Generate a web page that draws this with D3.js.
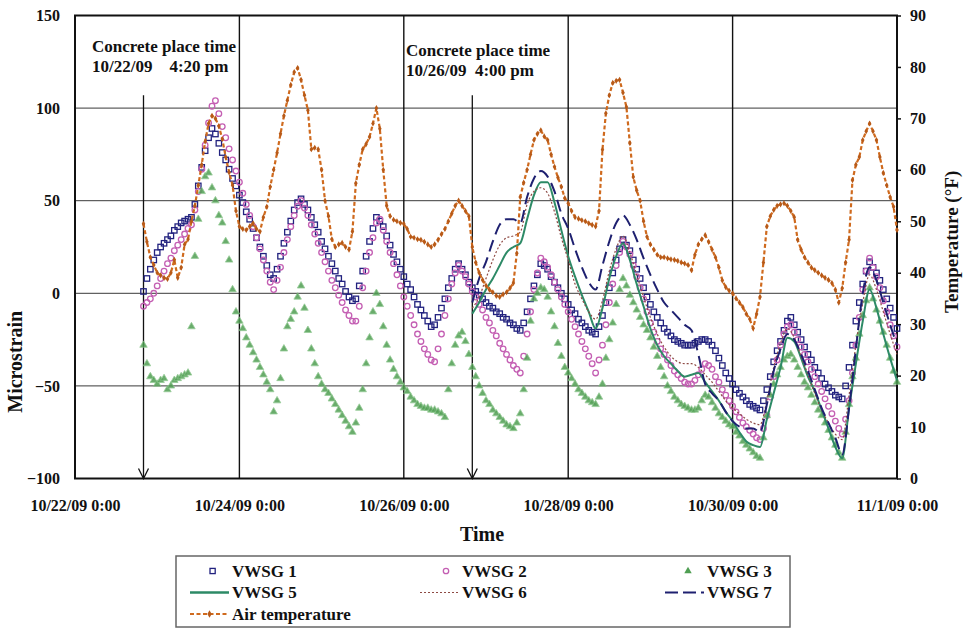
<!DOCTYPE html>
<html>
<head>
<meta charset="utf-8">
<script src="https://cdn.jsdelivr.net/npm/d3@7"></script>
<style>
  body { margin: 0; background: #fff; }
  svg { display: block; }
  text { font-family: "Liberation Serif", "Times New Roman", serif; font-weight: bold; fill: #111; }
</style>
</head>
<body>
<svg id="chart" width="967" height="628"></svg>
<script>
// ---- axis ticks ----
const xTickLabels = ["10/22/09 0:00", "10/24/09 0:00", "10/26/09 0:00", "10/28/09 0:00", "10/30/09 0:00", "11/1/09 0:00"];
const strainTicks = [-100, -50, 0, 50, 100, 150];
const tempTicks = [0, 10, 20, 30, 40, 50, 60, 70, 80, 90];

// ---- sampling ----
const firstPourStart = "10/22/09 20:00";   // VWSG 1-3 and air temperature, hourly
const firstPourStep = 1;
const secondPourStart = "10/26/09 20:00";  // VWSG 5-7, every 2 hours
const secondPourStep = 2;

// ---- concrete placement annotations ----
const pourMarks = ["10/22/09 20:00", "10/26/09 20:00"];
const pourNotes = [["Concrete place time", "10/22/09    4:20 pm"], ["Concrete place time", "10/26/09  4:00 pm"]];
const arrowTopStrain = 107;

// ---- microstrain, hourly from 10/22 20:00 (one row per day) ----
const vwsg1 = [
  1, 8, 13, 18,
  22, 25, 27, 29, 31, 34, 36, 38, 39, 40, 41, 48, 58, 68, 77, 84, 89, 86, 81, 76, 72, 67, 62, 58,
  53, 49, 44, 40, 35, 30, 25, 20, 15, 10, 8, 13, 20, 27, 33, 39, 45, 49, 51, 48, 45, 41, 37, 33,
  28, 24, 20, 16, 12, 8, 5, 1, -2, -4, -3, 4, 12, 20, 28, 35, 41, 39, 36, 31, 26, 21, 17, 13,
  9, 5, 2, -2, -6, -9, -12, -15, -18, -17, -13, -8, -3, 3, 8, 13, 16, 13, 10, 6, 3, 1, -1, -3,
  -5, -7, -8, -10, -11, -13, -14, -16, -17, -19, -20, -16, -10, -3, 4, 10, 16, 15, 13, 9, 6, 3, 0, -3,
  -6, -9, -11, -14, -16, -18, -20, -21, -22, -18, -12, -5, 3, 11, 18, 24, 29, 26, 23, 18, 13, 8, 3, -2,
  -6, -10, -13, -16, -19, -21, -23, -25, -26, -27, -28, -28, -28, -27, -26, -25, -25, -26, -28, -31, -35, -39, -43, -46,
  -49, -52, -54, -56, -58, -60, -61, -62, -63, -58, -52, -45, -37, -31, -26, -20, -15, -13, -17, -21, -25, -29, -33, -36,
  -40, -43, -46, -49, -51, -53, -55, -56, -57, -50, -40, -28, -15, -5, 5, 12, 17, 14, 11, 7, 2, -3, -8, -13,
  -19
];
const vwsg2 = [
  -7, -5, -3, 0,
  4, 8, 12, 16, 19, 23, 26, 29, 32, 35, 37, 45, 55, 67, 80, 92, 101, 104, 97, 90, 84, 78, 72, 66,
  60, 54, 48, 42, 36, 30, 24, 18, 12, 6, 2, 7, 14, 22, 29, 36, 42, 47, 50, 46, 42, 37, 32, 27,
  22, 17, 12, 7, 3, -1, -5, -9, -12, -15, -15, -7, 3, 12, 22, 30, 38, 40, 34, 28, 22, 16, 10, 4,
  -2, -7, -12, -17, -22, -26, -30, -33, -36, -37, -30, -22, -12, -3, 5, 11, 15, 12, 9, 5, 1, -2, -6, -9,
  -13, -16, -20, -23, -27, -30, -33, -36, -39, -41, -43, -34, -22, -10, 2, 11, 19, 17, 14, 10, 6, 2, -2, -6,
  -10, -14, -18, -22, -26, -30, -34, -38, -43, -36, -28, -17, -5, 5, 15, 22, 28, 25, 21, 15, 9, 3, -3, -10,
  -16, -21, -26, -30, -33, -36, -39, -42, -44, -46, -48, -49, -49, -47, -44, -41, -38, -39, -41, -45, -48, -52, -55, -58,
  -61, -64, -67, -70, -72, -74, -76, -78, -79, -73, -66, -56, -45, -36, -28, -22, -18, -17, -21, -25, -29, -33, -37, -41,
  -45, -49, -53, -57, -61, -65, -69, -73, -76, -68, -58, -43, -28, -13, 2, 12, 19, 14, 9, 3, -4, -10, -17, -23,
  -29
];
const vwsg3 = [
  -28, -38, -45, -47,
  -49, -47, -46, -52, -50, -47, -46, -45, -44, -43, -18, 20, 40, 55, 63, 65, 57, 50, 42, 38, 28, 18, 2, -10,
  -15, -19, -24, -28, -32, -36, -40, -44, -48, -52, -64, -58, -46, -30, -18, -14, -10, -2, 4, -8, -20, -30, -38, -45,
  -49, -52, -54, -57, -60, -63, -66, -69, -72, -75, -70, -62, -52, -38, -24, -10, 0, -6, -18, -28, -36, -41, -45, -48,
  -51, -53, -56, -58, -60, -61, -62, -62, -63, -63, -64, -65, -67, -52, -38, -28, -23, -21, -26, -33, -40, -45, -50, -54,
  -58, -60, -63, -65, -67, -69, -71, -72, -73, -70, -65, -52, -35, -15, -3, 0, 3, 2, -2, -10, -18, -27, -34, -40,
  -43, -46, -49, -52, -54, -56, -58, -59, -60, -56, -49, -35, -25, -16, -6, 2, 8, 4, -1, -5, -9, -13, -17, -20,
  -24, -29, -34, -40, -45, -50, -53, -56, -58, -60, -61, -62, -63, -63, -62, -58, -55, -56, -59, -62, -65, -67, -69, -71,
  -72, -75, -77, -80, -82, -84, -86, -88, -89, -78, -66, -55, -49, -44, -40, -36, -34, -33, -36, -40, -44, -48, -51, -55,
  -59, -63, -66, -70, -74, -78, -82, -86, -89, -75, -60, -45, -35, -22, -12, -4, 3, -3, -9, -15, -21, -28, -35, -42,
  -48
];
// ---- microstrain, every 2 h from 10/26 20:00 (one row per day) ----
const vwsg5 = [
  -11, -5,
  2, 8, 15, 22, 25, 27, 40, 53, 60, 60, 49, 34,
  20, 9, -1, -10, -19, -8, 8, 20, 27, 18, 5, -7,
  -19, -28, -34, -38, -42, -45, -44, -43, -48, -53, -58, -64,
  -69, -75, -80, -82, -83, -68, -54, -40, -24, -26, -35, -45,
  -53, -63, -73, -83, -89, -62, -38, -15, 2, -8, -22, -35,
  -47
];
const vwsg6 = [
  -8, -2,
  8, 18, 26, 30, 31, 33, 48, 55, 57, 54, 44, 30,
  18, 5, -3, -10, -14, -4, 12, 24, 31, 22, 10, -2,
  -13, -22, -29, -34, -37, -38, -38, -40, -44, -48, -53, -58,
  -62, -65, -68, -70, -71, -58, -40, -27, -19, -24, -34, -44,
  -54, -63, -70, -76, -79, -55, -28, -5, 10, 2, -10, -22,
  -33
];
const vwsg7 = [
  -5, 8,
  17, 28, 37, 40, 40, 38, 52, 62, 66, 63, 55, 43,
  35, 24, 14, 6, 2, 15, 28, 38, 42, 37, 29, 19,
  10, 2, -5, -9, -13, -17, -20, -33, -49, -54, -58, -64,
  -69, -72, -73, -73, -75, -60, -42, -30, -22, -25, -33, -42,
  -52, -62, -70, -78, -87, -62, -30, 0, 14, 7, -5, -17,
  -28
];
// ---- air temperature °F, hourly from 10/22 20:00 (one row per day) ----
const airTemp = [
  49.5, 46, 43, 41.5,
  40, 39.5, 39, 38.8, 40, 42.5, 39, 41, 45.5, 46.5, 50, 53, 57, 61, 65.5, 69, 70.5, 70, 68.5, 66, 62.5, 59.5, 57, 52,
  49, 48.5, 48.3, 49, 49.6, 48.5, 48, 50.8, 52.8, 56.7, 60, 63.3, 67, 70.5, 73.5, 76.5, 79, 79.8, 77.5, 74.5, 71.6, 64, 64.3, 64,
  60, 54, 51, 46.5, 45, 45.5, 45.8, 45, 44.5, 48, 57.4, 61, 64, 65, 66.4, 69, 72, 68, 60, 53, 51, 50.3, 50, 49.7,
  49.5, 48.5, 47, 46.8, 46.5, 46.4, 46, 45.5, 45, 45.5, 46.4, 47.5, 48.5, 50, 51.5, 53, 54, 53, 52, 51, 45, 42, 40, 38.6,
  37.5, 36.7, 36.2, 35.5, 35.3, 35.8, 36.2, 37, 38, 43.8, 54.7, 57.5, 60, 63, 65.8, 67, 67.7, 66.5, 65.8, 63, 60.6, 58.5, 56.7, 54.5,
  53.5, 52, 50.8, 50.5, 50.2, 50, 49.6, 49.3, 49, 52, 63.9, 71, 74.5, 76.9, 77.3, 77.5, 75, 72.2, 65.2, 58.6, 56, 54, 50, 47,
  45.5, 44.5, 43.5, 43, 43, 42.8, 42.6, 42.5, 42.3, 42, 41.8, 41.5, 40.5, 43.5, 45.5, 46.5, 47.3, 46, 44.5, 43, 41, 38.5, 37.2, 36.5,
  36, 35, 34.2, 33.3, 32, 31, 29.2, 32, 35.3, 42, 49, 51, 52.2, 53, 53.3, 53.5, 53, 52, 50.8, 46.4, 44.5, 43, 42, 41,
  40.5, 40, 39.5, 39, 38.6, 38, 36.7, 34.2, 37, 42, 46.4, 58, 61, 62.5, 65.8, 67.5, 69, 67.5, 65.8, 62.5, 59.4, 57, 54.7, 52.8,
  48.3
];

// ---- layout ----
const svg = d3.select("#chart");
const plot = { left: 75, right: 897, top: 15.5, bottom: 478.5 };
const parseTime = d3.utcParse("%m/%d/%y %H:%M");
const tickDates = xTickLabels.map(parseTime);

const x = d3.scaleUtc().domain([tickDates[0], tickDates[tickDates.length - 1]]).range([plot.left, plot.right]);
const yL = d3.scaleLinear().domain([-100, 150]).range([plot.bottom, plot.top]);
const yR = d3.scaleLinear().domain([0, 90]).range([plot.bottom, plot.top]);

const pairs = (start, step, vals) => {
  const t0 = parseTime(start).getTime();
  return vals.map((v, i) => ({ t: new Date(t0 + i * step * 3600e3), v }));
};

const s1 = pairs(firstPourStart, firstPourStep, vwsg1);
const s2 = pairs(firstPourStart, firstPourStep, vwsg2);
const s3 = pairs(firstPourStart, firstPourStep, vwsg3);
const sT = pairs(firstPourStart, firstPourStep, airTemp);
const s5 = pairs(secondPourStart, secondPourStep, vwsg5);
const s6 = pairs(secondPourStart, secondPourStep, vwsg6);
const s7 = pairs(secondPourStart, secondPourStep, vwsg7);

const colors = {
  v1: "#22227f", v2: "#c45fb3", v3: "#4f9e52", v5: "#2d8a66",
  v6: "#8e4a44", v7: "#1e2070", air: "#cf6a1e", airMark: "#b85a18"
};

// ---- gridlines ----
const grid = svg.append("g");
grid.selectAll("line.h").data(strainTicks.filter(v => v > -100 && v < 150)).join("line")
  .attr("x1", plot.left).attr("x2", plot.right)
  .attr("y1", d => yL(d)).attr("y2", d => yL(d))
  .attr("stroke", "#3a3a3a").attr("stroke-width", 1);
grid.selectAll("line.v").data(tickDates.slice(1, -1)).join("line")
  .attr("x1", d => x(d)).attr("x2", d => x(d))
  .attr("y1", plot.top).attr("y2", plot.bottom)
  .attr("stroke", "#111").attr("stroke-width", 1.4);

// ---- axes ----
const axisFont = g => g.selectAll("text")
  .style("font-family", '"Liberation Serif", serif').style("font-weight", "bold")
  .style("font-size", "16px").attr("fill", "#111");

svg.append("g").attr("transform", `translate(${plot.left},0)`)
  .call(d3.axisLeft(yL).tickValues(strainTicks).tickSize(0).tickPadding(15))
  .call(g => g.select(".domain").remove())
  .call(axisFont);

svg.append("g").attr("transform", `translate(${plot.right},0)`)
  .call(d3.axisRight(yR).tickValues(tempTicks).tickSize(4).tickPadding(9))
  .call(g => g.select(".domain").remove())
  .call(g => g.selectAll("line").attr("stroke", "#111").attr("stroke-width", 1.5))
  .call(axisFont);

svg.append("g").attr("transform", `translate(0,${plot.bottom})`)
  .call(d3.axisBottom(x).tickValues(tickDates).tickFormat((d, i) => xTickLabels[i]).tickSize(0).tickPadding(21))
  .call(g => g.select(".domain").remove())
  .call(axisFont);

// frame
svg.append("rect").attr("x", plot.left).attr("y", plot.top)
  .attr("width", plot.right - plot.left).attr("height", plot.bottom - plot.top)
  .attr("fill", "none").attr("stroke", "#111").attr("stroke-width", 2);

// axis titles
svg.append("text").attr("transform", `translate(22,${yL(-37)}) rotate(-90)`)
  .attr("text-anchor", "middle").style("font-size", "20px").text("Microstrain");
svg.append("text").attr("transform", `translate(958,${yR(46)}) rotate(-90)`)
  .attr("text-anchor", "middle").style("font-size", "19px").text("Temperature (°F)");
svg.append("text").attr("x", 482).attr("y", 541)
  .attr("text-anchor", "middle").style("font-size", "20px").text("Time");

// ---- placement arrows and notes ----
const arrows = svg.append("g").attr("stroke", "#111").attr("stroke-width", 1.3).attr("fill", "none");
pourMarks.map(parseTime).forEach(t => {
  const ax = x(t);
  arrows.append("line").attr("x1", ax).attr("x2", ax).attr("y1", yL(arrowTopStrain)).attr("y2", plot.bottom);
  arrows.append("path").attr("d", `M${ax - 5},${plot.bottom - 10}L${ax},${plot.bottom}L${ax + 5},${plot.bottom - 10}`);
});
const noteX = [92, 406];
const noteY = [52, 56];
pourNotes.forEach((lines, i) => {
  lines.forEach((s, j) => {
    svg.append("text").attr("x", noteX[i]).attr("y", noteY[i] + j * 19.5)
      .style("font-size", "17px").style("white-space", "pre").text(s);
  });
});

// ---- series ----
const gx = d => x(d.t);

// VWSG 1: open squares
svg.append("g").selectAll("rect").data(s1).join("rect")
  .attr("x", d => gx(d) - 2.7).attr("y", d => yL(d.v) - 2.7)
  .attr("width", 5.4).attr("height", 5.4)
  .attr("fill", "none").attr("stroke", colors.v1).attr("stroke-width", 1.3);

// VWSG 2: open circles
svg.append("g").selectAll("circle").data(s2).join("circle")
  .attr("cx", gx).attr("cy", d => yL(d.v)).attr("r", 2.8)
  .attr("fill", "none").attr("stroke", colors.v2).attr("stroke-width", 1.3);

// VWSG 3: filled triangles
const tri = d3.symbol(d3.symbolTriangle, 24);
svg.append("g").selectAll("path").data(s3).join("path")
  .attr("transform", d => `translate(${gx(d)},${yL(d.v)})`)
  .attr("d", tri).attr("fill", colors.v3).attr("stroke", "#86c488").attr("stroke-width", 0.8).attr("opacity", 0.85);

const strainLine = d3.line().x(gx).y(d => yL(d.v)).curve(d3.curveMonotoneX);

svg.append("path").datum(s5).attr("d", strainLine)
  .attr("fill", "none").attr("stroke", colors.v5).attr("stroke-width", 2);
svg.append("path").datum(s6).attr("d", strainLine)
  .attr("fill", "none").attr("stroke", colors.v6).attr("stroke-width", 1.2).attr("stroke-dasharray", "2,2");
svg.append("path").datum(s7).attr("d", strainLine)
  .attr("fill", "none").attr("stroke", colors.v7).attr("stroke-width", 2).attr("stroke-dasharray", "12,6");

// air temperature on the right-hand axis
const tempLine = d3.line().x(gx).y(d => yR(d.v));
svg.append("path").datum(sT).attr("d", tempLine)
  .attr("fill", "none").attr("stroke", colors.air).attr("stroke-width", 2.2).attr("stroke-dasharray", "4,2.5");
const diamond = d3.symbol(d3.symbolDiamond, 11);
svg.append("g").selectAll("path").data(sT).join("path")
  .attr("transform", d => `translate(${gx(d)},${yR(d.v)})`)
  .attr("d", diamond).attr("fill", colors.airMark);

// ---- legend ----
const legend = svg.append("g");
legend.append("rect").attr("x", 176).attr("y", 556).attr("width", 614).attr("height", 71)
  .attr("fill", "#fff").attr("stroke", "#666").attr("stroke-width", 1.5);

const legendItems = [
  { name: "VWSG 1", kind: "square", col: 0, row: 0 },
  { name: "VWSG 2", kind: "circle", col: 1, row: 0 },
  { name: "VWSG 3", kind: "triangle", col: 2, row: 0 },
  { name: "VWSG 5", kind: "solid", col: 0, row: 1 },
  { name: "VWSG 6", kind: "dotted", col: 1, row: 1 },
  { name: "VWSG 7", kind: "dashed", col: 2, row: 1 },
  { name: "Air temperature", kind: "air", col: 0, row: 2 }
];
const colText = [232, 462, 707];
const rowY = [571, 592.5, 614];

legendItems.forEach(it => {
  const tx = colText[it.col], cy = rowY[it.row];
  const g = legend.append("g");
  if (it.kind === "square") {
    g.append("rect").attr("x", tx - 22).attr("y", cy - 2.6).attr("width", 5.2).attr("height", 5.2)
      .attr("fill", "none").attr("stroke", colors.v1).attr("stroke-width", 1.3);
  } else if (it.kind === "circle") {
    g.append("circle").attr("cx", tx - 16).attr("cy", cy).attr("r", 2.7)
      .attr("fill", "none").attr("stroke", colors.v2).attr("stroke-width", 1.3);
  } else if (it.kind === "triangle") {
    g.append("path").attr("transform", `translate(${tx - 19},${cy})`).attr("d", tri).attr("fill", colors.v3);
  } else {
    const x1 = tx - 42, x2 = tx - 3;
    const ln = g.append("line").attr("x1", x1).attr("x2", x2).attr("y1", cy).attr("y2", cy).attr("fill", "none");
    if (it.kind === "solid") ln.attr("stroke", colors.v5).attr("stroke-width", 2.5);
    if (it.kind === "dotted") ln.attr("stroke", colors.v6).attr("stroke-width", 1.2).attr("stroke-dasharray", "2,2");
    if (it.kind === "dashed") ln.attr("stroke", colors.v7).attr("stroke-width", 2).attr("stroke-dasharray", "13,5");
    if (it.kind === "air") {
      ln.attr("stroke", colors.air).attr("stroke-width", 2).attr("stroke-dasharray", "4,2.5");
      g.append("path").attr("transform", `translate(${(x1 + x2) / 2},${cy})`).attr("d", d3.symbol(d3.symbolDiamond, 16)).attr("fill", colors.airMark);
    }
  }
  g.append("text").attr("x", tx).attr("y", cy + 5.5).style("font-size", "17px").text(it.name);
});
</script>
</body>
</html>
